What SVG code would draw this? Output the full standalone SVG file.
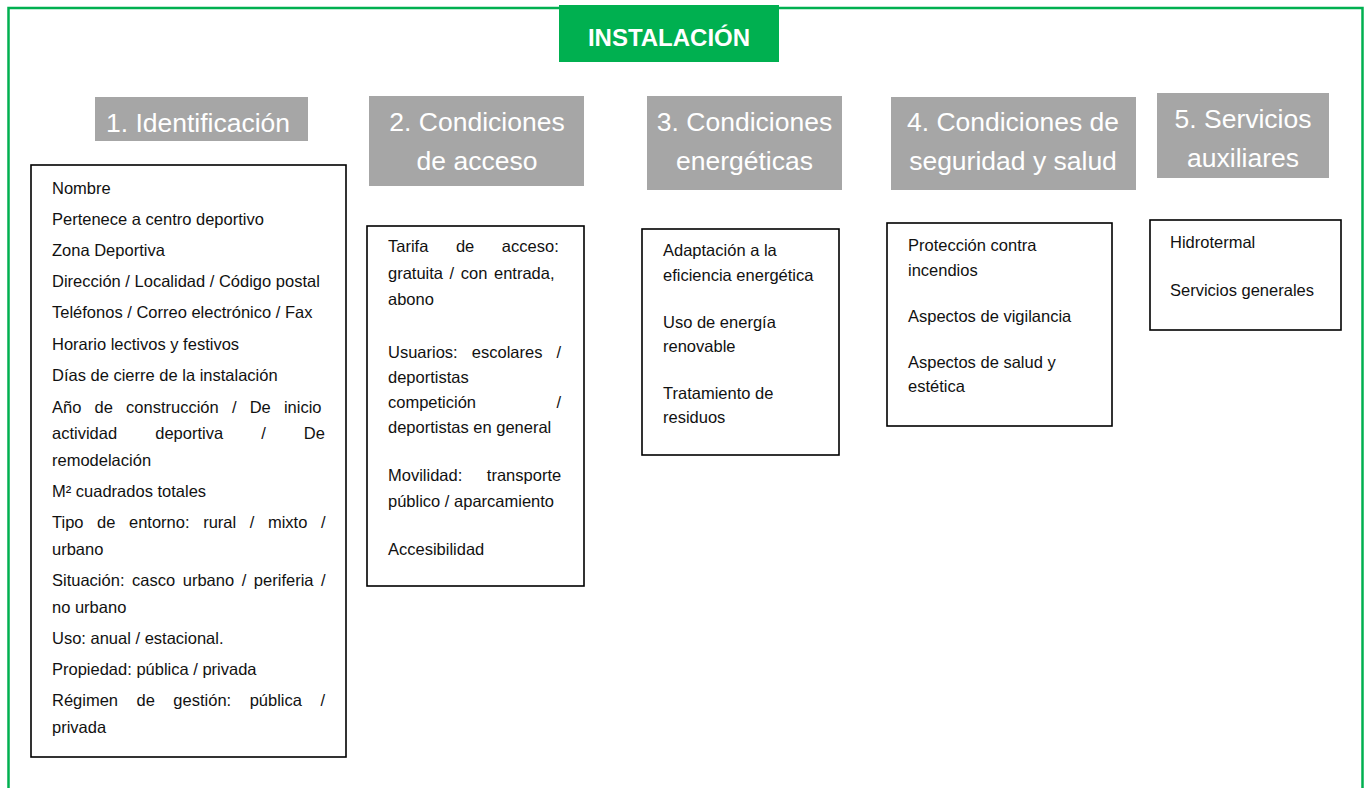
<svg xmlns="http://www.w3.org/2000/svg" width="1369" height="788" viewBox="0 0 1369 788">
<style>
.frame{fill:none;stroke:#00B050;stroke-width:2.5}
.title{fill:#00B050}
.ttxt{font-family:"Liberation Sans",Arial,sans-serif;font-weight:bold;font-size:24px;fill:#fff;text-anchor:middle}
.hdr{fill:#A6A6A6}
.htxt{font-family:"Liberation Sans",Arial,sans-serif;font-size:26.5px;fill:#fff;text-anchor:middle}
.box{fill:#fff;stroke:#000;stroke-width:1.6}
.t{font-family:"Liberation Sans",Arial,sans-serif;font-size:16.5px;fill:#111}
</style>
<rect width="1369" height="788" fill="#fff"/>
<path class="frame" d="M8.5,790 V8 H1362.5 V790"/>
<g id="title">
<rect class="title" x="559" y="5" width="220" height="57"/>
<text class="ttxt" x="669" y="46">INSTALACIÓN</text>
</g>
<g id="h1">
<rect class="hdr" x="95" y="97" width="213" height="44"/>
<text class="htxt" x="198" y="132">1. Identificación</text>
</g>
<g id="h2">
<rect class="hdr" x="369" y="96" width="215" height="90"/>
<text class="htxt" x="477" y="131">2. Condiciones</text>
<text class="htxt" x="477" y="170">de acceso</text>
</g>
<g id="h3">
<rect class="hdr" x="647" y="96" width="195" height="94"/>
<text class="htxt" x="744.5" y="131">3. Condiciones</text>
<text class="htxt" x="744.5" y="170">energéticas</text>
</g>
<g id="h4">
<rect class="hdr" x="891" y="97" width="245" height="93"/>
<text class="htxt" x="1013" y="131">4. Condiciones de</text>
<text class="htxt" x="1013" y="170">seguridad y salud</text>
</g>
<g id="h5">
<rect class="hdr" x="1157" y="93" width="172" height="85"/>
<text class="htxt" x="1243" y="128">5. Servicios</text>
<text class="htxt" x="1243" y="167">auxiliares</text>
</g>
<g id="b1">
<rect class="box" x="31" y="165" width="315" height="592"/>
<text class="t" x="52" y="194">Nombre</text>
<text class="t" x="52" y="225">Pertenece a centro deportivo</text>
<text class="t" x="52" y="256">Zona Deportiva</text>
<text class="t" x="52" y="287">Dirección / Localidad / Código postal</text>
<text class="t" x="52" y="318">Teléfonos / Correo electrónico / Fax</text>
<text class="t" x="52" y="350">Horario lectivos y festivos</text>
<text class="t" x="52" y="381">Días de cierre de la instalación</text>
<text class="t" x="52" y="413" word-spacing="8.6">Año de construcción / De inicio</text>
<text class="t" x="52" y="439" word-spacing="33.5">actividad deportiva / De</text>
<text class="t" x="52" y="466">remodelación</text>
<text class="t" x="52" y="497">M² cuadrados totales</text>
<text class="t" x="52" y="528" word-spacing="9">Tipo de entorno: rural / mixto /</text>
<text class="t" x="52" y="555">urbano</text>
<text class="t" x="52" y="586" word-spacing="3">Situación: casco urbano / periferia /</text>
<text class="t" x="52" y="613">no urbano</text>
<text class="t" x="52" y="644">Uso: anual / estacional.</text>
<text class="t" x="52" y="675">Propiedad: pública / privada</text>
<text class="t" x="52" y="706" word-spacing="13.9">Régimen de gestión: pública /</text>
<text class="t" x="52" y="733">privada</text>
</g>
<g id="b2">
<rect class="box" x="367" y="226" width="217" height="360"/>
<text class="t" x="388" y="252" word-spacing="23">Tarifa de acceso:</text>
<text class="t" x="388" y="279" word-spacing="2">gratuita / con entrada,</text>
<text class="t" x="388" y="305">abono</text>
<text class="t" x="388" y="358" word-spacing="9.5">Usuarios: escolares /</text>
<text class="t" x="388" y="383">deportistas</text>
<text class="t" x="388" y="408">competición</text>
<text class="t" x="561" y="408" text-anchor="end">/</text>
<text class="t" x="388" y="433">deportistas en general</text>
<text class="t" x="388" y="481" word-spacing="20">Movilidad: transporte</text>
<text class="t" x="388" y="507">público / aparcamiento</text>
<text class="t" x="388" y="555">Accesibilidad</text>
</g>
<g id="b3">
<rect class="box" x="642" y="229" width="197" height="226"/>
<text class="t" x="663" y="256">Adaptación a la</text>
<text class="t" x="663" y="281">eficiencia energética</text>
<text class="t" x="663" y="328">Uso de energía</text>
<text class="t" x="663" y="352">renovable</text>
<text class="t" x="663" y="399">Tratamiento de</text>
<text class="t" x="663" y="423">residuos</text>
</g>
<g id="b4">
<rect class="box" x="887" y="223" width="225" height="203"/>
<text class="t" x="908" y="251">Protección contra</text>
<text class="t" x="908" y="276">incendios</text>
<text class="t" x="908" y="322">Aspectos de vigilancia</text>
<text class="t" x="908" y="368">Aspectos de salud y</text>
<text class="t" x="908" y="392">estética</text>
</g>
<g id="b5">
<rect class="box" x="1150" y="220" width="191" height="110"/>
<text class="t" x="1170" y="248">Hidrotermal</text>
<text class="t" x="1170" y="296">Servicios generales</text>
</g>
<g id="connectors"></g>
</svg>
